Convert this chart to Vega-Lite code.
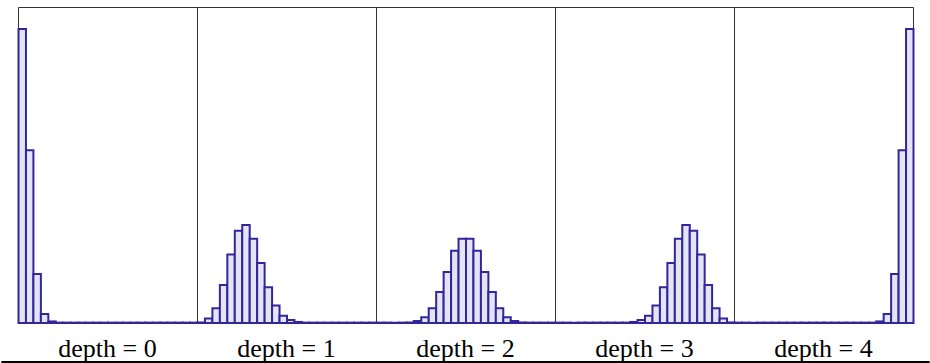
{
  "$schema": "https://vega.github.io/schema/vega-lite/v6.json",
  "padding": {"left": 0, "top": 6, "right": 0, "bottom": 0},
  "background": "white",
  "bounds": "flush",
  "data": {"values": [
    {"depth":0,"lo":0,"hi":1,"p":0.558},{"depth":0,"lo":1,"hi":2,"p":0.328},{"depth":0,"lo":2,"hi":3,"p":0.093},{"depth":0,"lo":3,"hi":4,"p":0.017},{"depth":0,"lo":4,"hi":5,"p":0.003},{"depth":0,"lo":5,"hi":6,"p":0.0007},{"depth":0,"lo":6,"hi":7,"p":0.0007},{"depth":0,"lo":7,"hi":8,"p":0.0007},{"depth":0,"lo":8,"hi":9,"p":0.0007},{"depth":0,"lo":9,"hi":10,"p":0.0007},{"depth":0,"lo":10,"hi":11,"p":0.0007},{"depth":0,"lo":11,"hi":12,"p":0.0007},{"depth":0,"lo":12,"hi":13,"p":0.0007},{"depth":0,"lo":13,"hi":14,"p":0.0007},{"depth":0,"lo":14,"hi":15,"p":0.0007},{"depth":0,"lo":15,"hi":16,"p":0.0007},{"depth":0,"lo":16,"hi":17,"p":0.0007},{"depth":0,"lo":17,"hi":18,"p":0.0007},{"depth":0,"lo":18,"hi":19,"p":0.0007},{"depth":0,"lo":19,"hi":20,"p":0.0007},{"depth":0,"lo":20,"hi":21,"p":0.0007},{"depth":0,"lo":21,"hi":22,"p":0.0007},{"depth":0,"lo":22,"hi":23,"p":0.0007},{"depth":0,"lo":23,"hi":24,"p":0.0007},
    {"depth":1,"lo":0,"hi":1,"p":0.001},{"depth":1,"lo":1,"hi":2,"p":0.0085},{"depth":1,"lo":2,"hi":3,"p":0.028},{"depth":1,"lo":3,"hi":4,"p":0.072},{"depth":1,"lo":4,"hi":5,"p":0.130},{"depth":1,"lo":5,"hi":6,"p":0.175},{"depth":1,"lo":6,"hi":7,"p":0.186},{"depth":1,"lo":7,"hi":8,"p":0.160},{"depth":1,"lo":8,"hi":9,"p":0.114},{"depth":1,"lo":9,"hi":10,"p":0.068},{"depth":1,"lo":10,"hi":11,"p":0.033},{"depth":1,"lo":11,"hi":12,"p":0.014},{"depth":1,"lo":12,"hi":13,"p":0.0057},{"depth":1,"lo":13,"hi":14,"p":0.002},{"depth":1,"lo":14,"hi":15,"p":0.0007},{"depth":1,"lo":15,"hi":16,"p":0.0007},{"depth":1,"lo":16,"hi":17,"p":0.0007},{"depth":1,"lo":17,"hi":18,"p":0.0007},{"depth":1,"lo":18,"hi":19,"p":0.0007},{"depth":1,"lo":19,"hi":20,"p":0.0007},{"depth":1,"lo":20,"hi":21,"p":0.0007},{"depth":1,"lo":21,"hi":22,"p":0.0007},{"depth":1,"lo":22,"hi":23,"p":0.0007},{"depth":1,"lo":23,"hi":24,"p":0.0007},
    {"depth":2,"lo":0,"hi":1,"p":0.0007},{"depth":2,"lo":1,"hi":2,"p":0.0007},{"depth":2,"lo":2,"hi":3,"p":0.0007},{"depth":2,"lo":3,"hi":4,"p":0.0007},{"depth":2,"lo":4,"hi":5,"p":0.001},{"depth":2,"lo":5,"hi":6,"p":0.004},{"depth":2,"lo":6,"hi":7,"p":0.011},{"depth":2,"lo":7,"hi":8,"p":0.028},{"depth":2,"lo":8,"hi":9,"p":0.059},{"depth":2,"lo":9,"hi":10,"p":0.097},{"depth":2,"lo":10,"hi":11,"p":0.137},{"depth":2,"lo":11,"hi":12,"p":0.160},{"depth":2,"lo":12,"hi":13,"p":0.160},{"depth":2,"lo":13,"hi":14,"p":0.137},{"depth":2,"lo":14,"hi":15,"p":0.097},{"depth":2,"lo":15,"hi":16,"p":0.059},{"depth":2,"lo":16,"hi":17,"p":0.028},{"depth":2,"lo":17,"hi":18,"p":0.011},{"depth":2,"lo":18,"hi":19,"p":0.004},{"depth":2,"lo":19,"hi":20,"p":0.001},{"depth":2,"lo":20,"hi":21,"p":0.0007},{"depth":2,"lo":21,"hi":22,"p":0.0007},{"depth":2,"lo":22,"hi":23,"p":0.0007},{"depth":2,"lo":23,"hi":24,"p":0.0007},
    {"depth":3,"lo":0,"hi":1,"p":0.0007},{"depth":3,"lo":1,"hi":2,"p":0.0007},{"depth":3,"lo":2,"hi":3,"p":0.0007},{"depth":3,"lo":3,"hi":4,"p":0.0007},{"depth":3,"lo":4,"hi":5,"p":0.0007},{"depth":3,"lo":5,"hi":6,"p":0.0007},{"depth":3,"lo":6,"hi":7,"p":0.0007},{"depth":3,"lo":7,"hi":8,"p":0.0007},{"depth":3,"lo":8,"hi":9,"p":0.0007},{"depth":3,"lo":9,"hi":10,"p":0.0007},{"depth":3,"lo":10,"hi":11,"p":0.002},{"depth":3,"lo":11,"hi":12,"p":0.0057},{"depth":3,"lo":12,"hi":13,"p":0.014},{"depth":3,"lo":13,"hi":14,"p":0.033},{"depth":3,"lo":14,"hi":15,"p":0.068},{"depth":3,"lo":15,"hi":16,"p":0.114},{"depth":3,"lo":16,"hi":17,"p":0.160},{"depth":3,"lo":17,"hi":18,"p":0.186},{"depth":3,"lo":18,"hi":19,"p":0.175},{"depth":3,"lo":19,"hi":20,"p":0.130},{"depth":3,"lo":20,"hi":21,"p":0.072},{"depth":3,"lo":21,"hi":22,"p":0.028},{"depth":3,"lo":22,"hi":23,"p":0.0085},{"depth":3,"lo":23,"hi":24,"p":0.001},
    {"depth":4,"lo":0,"hi":1,"p":0.0007},{"depth":4,"lo":1,"hi":2,"p":0.0007},{"depth":4,"lo":2,"hi":3,"p":0.0007},{"depth":4,"lo":3,"hi":4,"p":0.0007},{"depth":4,"lo":4,"hi":5,"p":0.0007},{"depth":4,"lo":5,"hi":6,"p":0.0007},{"depth":4,"lo":6,"hi":7,"p":0.0007},{"depth":4,"lo":7,"hi":8,"p":0.0007},{"depth":4,"lo":8,"hi":9,"p":0.0007},{"depth":4,"lo":9,"hi":10,"p":0.0007},{"depth":4,"lo":10,"hi":11,"p":0.0007},{"depth":4,"lo":11,"hi":12,"p":0.0007},{"depth":4,"lo":12,"hi":13,"p":0.0007},{"depth":4,"lo":13,"hi":14,"p":0.0007},{"depth":4,"lo":14,"hi":15,"p":0.0007},{"depth":4,"lo":15,"hi":16,"p":0.0007},{"depth":4,"lo":16,"hi":17,"p":0.0007},{"depth":4,"lo":17,"hi":18,"p":0.0007},{"depth":4,"lo":18,"hi":19,"p":0.0007},{"depth":4,"lo":19,"hi":20,"p":0.003},{"depth":4,"lo":20,"hi":21,"p":0.017},{"depth":4,"lo":21,"hi":22,"p":0.093},{"depth":4,"lo":22,"hi":23,"p":0.328},{"depth":4,"lo":23,"hi":24,"p":0.558}
  ]},
  "facet": {"column": {"field": "depth", "type": "ordinal", "header": {"title": null, "labelOrient": "bottom", "labelFont": "Liberation Serif, Times New Roman, DejaVu Serif, serif", "labelFontSize": 26, "labelColor": "black", "labelBaseline": "alphabetic", "labelPadding": 34, "labelExpr": "'depth = ' + datum.value"}}},
  "spacing": 0,
  "spec": {
    "width": 179,
    "height": 316,
    "layer": [
      {"mark": {"type": "bar", "fill": "#e3e5f7", "stroke": "#35259a", "strokeWidth": 2, "binSpacing": 0},
       "encoding": {
         "x": {"field": "lo", "type": "quantitative", "bin": "binned", "scale": {"domain": [0, 24], "nice": false, "zero": false}, "axis": null},
         "x2": {"field": "hi"},
         "y": {"field": "p", "type": "quantitative", "scale": {"domain": [0, 0.6], "nice": false}, "axis": null}
       }},
      {"mark": {"type": "rule", "clip": false, "color": "black", "strokeWidth": 2},
       "encoding": {"x": {"datum": -2.15}, "x2": {"datum": 26.15}, "y": {"datum": -0.074}}}
    ]
  },
  "config": {"view": {"stroke": "#333", "strokeWidth": 1}}
}
